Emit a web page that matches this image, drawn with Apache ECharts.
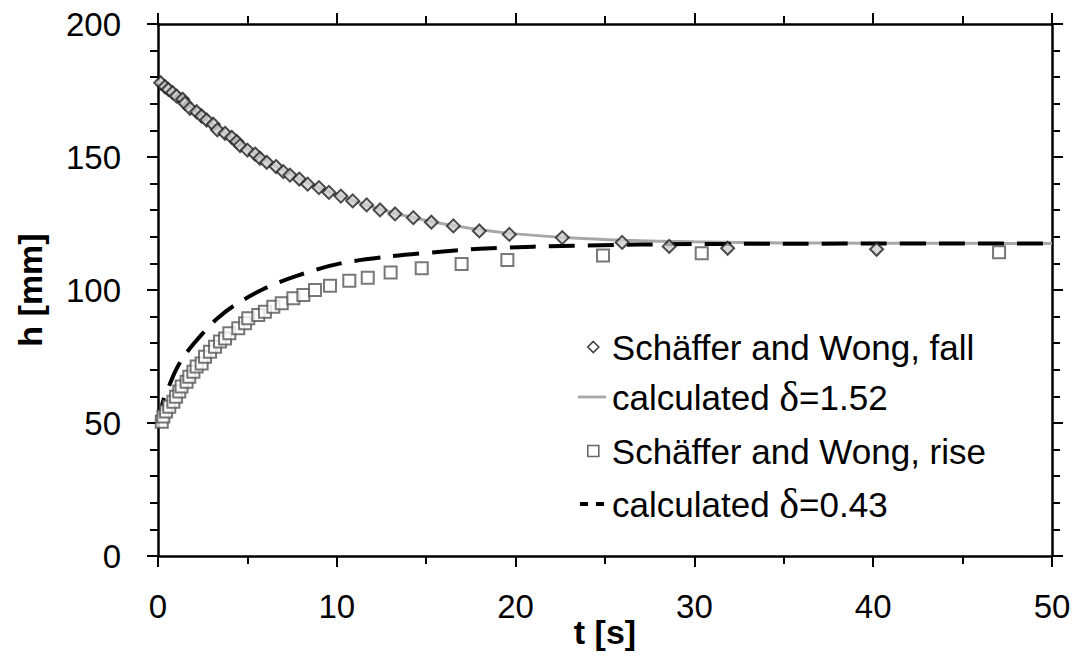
<!DOCTYPE html>
<html>
<head>
<meta charset="utf-8">
<script src="https://cdn.jsdelivr.net/npm/echarts@6/dist/echarts.min.js"></script>
<style>html,body{margin:0;padding:0;background:#fff;}#c{width:1078px;height:660px;}</style>
</head>
<body>
<div id="c"></div>
<script>
// Schäffer and Wong, fall (measured)
const fallT = [0.15,0.39,0.58,0.82,1.04,1.38,1.51,1.79,2.16,2.44,2.72,3.09,3.32,3.75,4.12,4.40,4.59,5.00,5.43,5.70,6.08,6.60,7.01,7.38,7.90,8.37,9.00,9.56,10.23,10.89,11.67,12.42,13.26,14.28,15.29,16.52,17.97,19.65,22.61,25.96,28.59,31.86,40.19];
const fallH = [177.9,176.4,175.4,174.2,172.9,171.7,170.2,168.3,167.0,165.4,163.9,162.3,160.2,158.9,157.4,155.8,154.3,152.6,151.1,149.5,148.0,146.4,144.5,143.2,141.7,139.8,138.5,136.7,135.3,133.5,132.0,130.1,128.6,127.2,125.5,124.1,122.2,120.9,119.7,117.9,116.4,115.7,115.3];
// Schäffer and Wong, rise (measured)
const riseT = [0.21,0.30,0.45,0.63,0.86,1.01,1.19,1.32,1.60,1.75,1.98,2.16,2.44,2.63,2.91,3.19,3.47,3.75,3.99,4.49,4.87,5.05,5.61,5.98,6.45,6.92,7.57,8.13,8.78,9.62,10.70,11.73,13.01,14.75,16.98,19.54,24.89,30.41,47.04];
const riseH = [50.5,52.4,54.3,56.1,58.0,59.9,61.8,63.7,65.5,67.4,69.3,71.2,72.4,74.9,76.8,78.7,80.6,81.8,83.7,85.6,87.5,89.4,90.6,91.8,93.7,95.0,96.9,98.1,100.0,101.6,103.5,104.6,106.6,108.2,109.8,111.3,113.0,113.8,114.2];
// calculated delta = 1.52
const calc1T = [0,0.5,1,2,3,4,5,6,7,8,9,10,12,14,16,18,20,23,26,30,35,40,50];
const calc1H = [178.5,176,173.2,167.8,162.6,157.8,153.2,148.9,145.0,141.5,138.5,135.8,131.2,127.6,124.8,122.7,121.1,119.6,118.7,118.1,117.7,117.6,117.5];
// calculated delta = 0.43
const calc2T = [0,0.3,0.6,1,1.5,2.5,3.3,4.2,5.9,7.8,10.2,12.8,15.8,18,21,27,35,50];
const calc2H = [50,58.6,63.7,69.9,75.6,83.7,89.2,93.9,100.4,105.4,110.0,112.5,114.4,115.5,116.3,117.1,117.4,117.5];

const xTicks = {min:0, max:50, interval:10};
const yTicks = {min:0, max:200, interval:50};

const NAME_FALL = 'Schäffer and Wong, fall';
const NAME_RISE = 'Schäffer and Wong, rise';
const NAME_C1 = 'calculated δ=1.52';
const NAME_C2 = 'calculated δ=0.43';

const zip = (a,b) => a.map((v,i)=>[v,b[i]]);
const FONT = '"Liberation Sans", Arial, sans-serif';
const SERIF = '"Liberation Serif", "DejaVu Serif", serif';

const chart = echarts.init(document.getElementById('c'), null, {renderer:'svg'});
const axisLine = {show:true, onZero:false, lineStyle:{color:'#000', width:2.5}};
const tick = {show:true, inside:false, length:11, lineStyle:{color:'#000', width:2}};
const minor = (n)=>({show:true, splitNumber:n, length:8, lineStyle:{color:'#000', width:2}});

const legendFormatter = function(name){
  if (name.indexOf('calculated') === 0) {
    return '{a|calculated }{d|δ}{a|' + name.split('δ')[1] + '}';
  }
  return '{a|' + name + '}';
};
const legendText = (padLeft) => ({
  color:'#000', fontFamily:FONT, fontSize:35, lineHeight:40, padding:[0,0,0,padLeft],
  rich:{
    a:{fontFamily:FONT, fontSize:35, color:'#000', lineHeight:40},
    d:{fontFamily:SERIF, fontSize:42, color:'#000', lineHeight:40}
  }
});

chart.setOption({
  animation:false,
  backgroundColor:'#fff',
  grid:{left:158, right:26, top:24, bottom:104, containLabel:false, outerBoundsMode:'none'},
  xAxis:[
    {type:'value', min:xTicks.min, max:xTicks.max, interval:xTicks.interval, position:'bottom',
     name:'t [s]', nameLocation:'middle', nameGap:59, nameMoveOverlap:false,
     nameTextStyle:{fontFamily:FONT, fontSize:34, fontWeight:'bold', color:'#000'},
     axisLine:axisLine, axisTick:tick, minorTick:minor(2), splitLine:{show:false},
     axisLabel:{fontFamily:FONT, fontSize:33, color:'#000', margin:34}},
    {type:'value', min:xTicks.min, max:xTicks.max, interval:xTicks.interval, position:'top',
     axisLine:axisLine, axisTick:tick, minorTick:minor(2), splitLine:{show:false}, axisLabel:{show:false}}
  ],
  yAxis:[
    {type:'value', min:yTicks.min, max:yTicks.max, interval:yTicks.interval, position:'left',
     name:'h [mm]', nameLocation:'middle', nameGap:111, nameRotate:90, nameMoveOverlap:false,
     nameTextStyle:{fontFamily:FONT, fontSize:34, fontWeight:'bold', color:'#000'},
     axisLine:axisLine, axisTick:tick, minorTick:minor(5), splitLine:{show:false},
     axisLabel:{fontFamily:FONT, fontSize:33, color:'#000', margin:37}},
    {type:'value', min:yTicks.min, max:yTicks.max, interval:yTicks.interval, position:'right',
     axisLine:axisLine, axisTick:tick, minorTick:minor(5), splitLine:{show:false}, axisLabel:{show:false}}
  ],
  legend:[
    { // measured-point entries
      orient:'vertical', left:582, top:322, itemWidth:11, itemHeight:11, itemGap:64,
      selectedMode:false,
      data:[
        {name:NAME_FALL, icon:'diamond', itemStyle:{color:'#fff', borderColor:'#111', borderWidth:1.6}},
        {name:NAME_RISE, icon:'rect', itemStyle:{color:'#fff', borderColor:'#444', borderWidth:1.6}}
      ],
      formatter:legendFormatter, textStyle:legendText(8)
    },
    { // calculated-curve entries
      orient:'vertical', left:573, top:371, itemWidth:28, itemHeight:4, itemGap:65,
      selectedMode:false,
      data:[
        {name:NAME_C1, icon:'path://M0,0h30v3h-30z', itemStyle:{color:'#a8a8a8', borderWidth:0}},
        {name:NAME_C2, icon:'path://M0,0h8v4h-8z M16,0h8v4h-8z', itemStyle:{color:'#000', borderWidth:0}}
      ],
      formatter:legendFormatter, textStyle:legendText(1)
    }
  ],
  series:[
    {name:NAME_C1, type:'line', showSymbol:false, symbol:'none', smooth:0.3,
     data:zip(calc1T, calc1H), lineStyle:{color:'#a8a8a8', width:3}, itemStyle:{color:'#a8a8a8'}, z:2},
    {name:NAME_C2, type:'line', showSymbol:false, symbol:'none', smooth:0.3,
     data:zip(calc2T, calc2H), lineStyle:{color:'#000', width:4, type:[26,13]}, itemStyle:{color:'#000'}, z:3},
    {name:NAME_FALL, type:'scatter', symbol:'diamond', symbolSize:[13,13],
     data:zip(fallT, fallH), itemStyle:{color:'#cfcfcf', borderColor:'#222', borderWidth:2}, z:4},
    {name:NAME_RISE, type:'scatter', symbol:'rect', symbolSize:[12,12],
     data:zip(riseT, riseH), itemStyle:{color:'#fff', borderColor:'#555', borderWidth:2}, z:4}
  ]
});
</script>
</body>
</html>
